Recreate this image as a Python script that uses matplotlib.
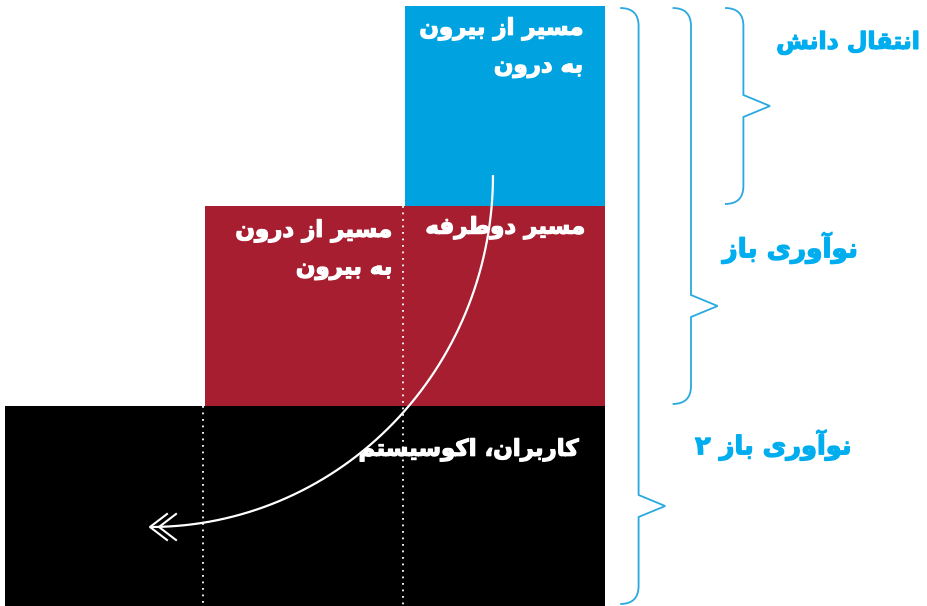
import matplotlib
matplotlib.use('Agg')
import matplotlib.pyplot as plt
import matplotlib.patheffects as pe
from matplotlib.patches import Rectangle, PathPatch
from matplotlib.path import Path
import numpy as np

# Layers of the staircase: label, first column, row (grid of 3x3 cells)
layer_labels = ['مسیر از بیرون\nبه درون', 'مسیر دوطرفه', 'کاربران، اکوسیستم']
layer_col0 = [2, 1, 0]
layer_row = [0, 1, 2]
layer_colors = ['#00a3e0', '#a61e30', '#000000']
extra_label = 'مسیر از درون\nبه بیرون'
# braces: label, number of layers covered
brace_labels = ['انتقال دانش', 'نوآوری باز', 'نوآوری باز ۲']
brace_span = [1, 2, 3]

blue_txt = '#00aeef'
brace_col = '#29a9e1'

# --- tiny persian shaper (matplotlib has no complex text layout) ---
forms = {
    'ا': ('\uFE8D', '\uFE8E', None, None),
    'آ': ('\uFE81', '\uFE82', None, None),
    'د': ('\uFEA9', '\uFEAA', None, None),
    'ر': ('\uFEAD', '\uFEAE', None, None),
    'ز': ('\uFEAF', '\uFEB0', None, None),
    'و': ('\uFEED', '\uFEEE', None, None),
    'ب': ('\uFE8F', '\uFE90', '\uFE91', '\uFE92'),
    'ت': ('\uFE95', '\uFE96', '\uFE97', '\uFE98'),
    'س': ('\uFEB1', '\uFEB2', '\uFEB3', '\uFEB4'),
    'ش': ('\uFEB5', '\uFEB6', '\uFEB7', '\uFEB8'),
    'ط': ('\uFEC1', '\uFEC2', '\uFEC3', '\uFEC4'),
    'ف': ('\uFED1', '\uFED2', '\uFED3', '\uFED4'),
    'ق': ('\uFED5', '\uFED6', '\uFED7', '\uFED8'),
    'ل': ('\uFEDD', '\uFEDE', '\uFEDF', '\uFEE0'),
    'م': ('\uFEE1', '\uFEE2', '\uFEE3', '\uFEE4'),
    'ن': ('\uFEE5', '\uFEE6', '\uFEE7', '\uFEE8'),
    'ه': ('\uFEE9', '\uFEEA', '\uFEEB', '\uFEEC'),
    'ک': ('\uFB8E', '\uFB8F', '\uFB90', '\uFB91'),
    'ی': ('\uFBFC', '\uFBFD', '\uFBFE', '\uFBFF'),
}

def dual(c):
    return c in forms and forms[c][2] is not None

def shape_line(s):
    out = []
    for i, c in enumerate(s):
        if c not in forms:
            out.append(c)
            continue
        prev = s[i - 1] if i > 0 else ''
        nxt = s[i + 1] if i + 1 < len(s) else ''
        jp = dual(prev)
        jn = dual(c) and nxt in forms
        iso, fin, ini, med = forms[c]
        if jp and jn:
            out.append(med)
        elif jp:
            out.append(fin)
        elif jn:
            out.append(ini)
        else:
            out.append(iso)
    return ''.join(out)[::-1]

def fa(s):
    return '\n'.join(shape_line(l) for l in s.split('\n'))

plt.rcParams['font.family'] = ['DejaVu Sans']
fig = plt.figure(figsize=(9.27, 6.06), dpi=100)
ax = fig.add_axes([0, 0, 1, 1])
ax.set_xlim(-0.025, 4.61)
ax.set_ylim(3.0, -0.03)
ax.axis('off')

# rectangles
for c0, r, col in zip(layer_col0, layer_row, layer_colors):
    ax.add_patch(Rectangle((c0, r), 3 - c0, 1, facecolor=col, edgecolor='none'))

# dotted lines continuing the left edge of each upper step down to the bottom
for c0, r in zip(layer_col0[:-1], layer_row[:-1]):
    ax.plot([c0 - 0.01, c0 - 0.01], [r + 1, 3], color='white', lw=1.3,
            linestyle=(0, (1, 2.6)))

# text inside blocks
bold = [pe.withStroke(linewidth=0.9, foreground='white')]
txt_kw = dict(color='white', fontsize=16.5, fontweight='bold', ha='right',
              va='center', multialignment='right', linespacing=1.75,
              path_effects=bold)
ax.text(2.89, 0.21, fa(layer_labels[0]), **txt_kw)
ax.text(2.90, 1.11, fa(layer_labels[1]), **txt_kw)
ax.text(1.935, 1.22, fa(extra_label), **txt_kw)
ax.text(2.865, 2.22, fa(layer_labels[2]), **txt_kw)

# curved arrow (quarter ellipse)
cx, cy, rx, ry = 0.725, 0.845, 1.715, 1.76
t = np.linspace(0, np.pi / 2, 200)
ax.plot(cx + rx * np.cos(t), cy + ry * np.sin(t), color='white', lw=1.6,
        solid_capstyle='butt')
tip_y = cy + ry
for dx in (0.0, 0.045):
    ax.plot([cx + dx + 0.085, cx + dx, cx + dx + 0.085],
            [tip_y - 0.065, tip_y, tip_y + 0.065], color='white', lw=1.5)

# braces
for k, (lab, n) in enumerate(zip(brace_labels, brace_span)):
    x0 = 3.6 - 0.262 * k
    xv = x0 + 0.092
    xt = x0 + 0.225
    y0, y1 = 0.01, n - 0.01
    ym = n - 0.5
    r = 0.09
    verts = [(x0, y0), (xv, y0), (xv, y0 + r),
             (xv, ym - 0.055), (xt, ym), (xv, ym + 0.055),
             (xv, y1 - r), (xv, y1), (x0, y1)]
    codes = [Path.MOVETO, Path.CURVE3, Path.CURVE3,
             Path.LINETO, Path.LINETO, Path.LINETO,
             Path.LINETO, Path.CURVE3, Path.CURVE3]
    ax.add_patch(PathPatch(Path(verts, codes), facecolor='none',
                           edgecolor=brace_col, lw=1.3))

lab_pos = [(4.575, 0.18), (4.265, 1.21), (4.235, 2.195)]
lab_size = [17, 19, 18.5]
for lab, (x, y), fs in zip(brace_labels, lab_pos, lab_size):
    ax.text(x, y, fa(lab), color=blue_txt, fontsize=fs, fontweight='bold',
            ha='right', va='center',
            path_effects=[pe.withStroke(linewidth=0.9, foreground=blue_txt)])

fig.savefig('out.png', dpi=100)
